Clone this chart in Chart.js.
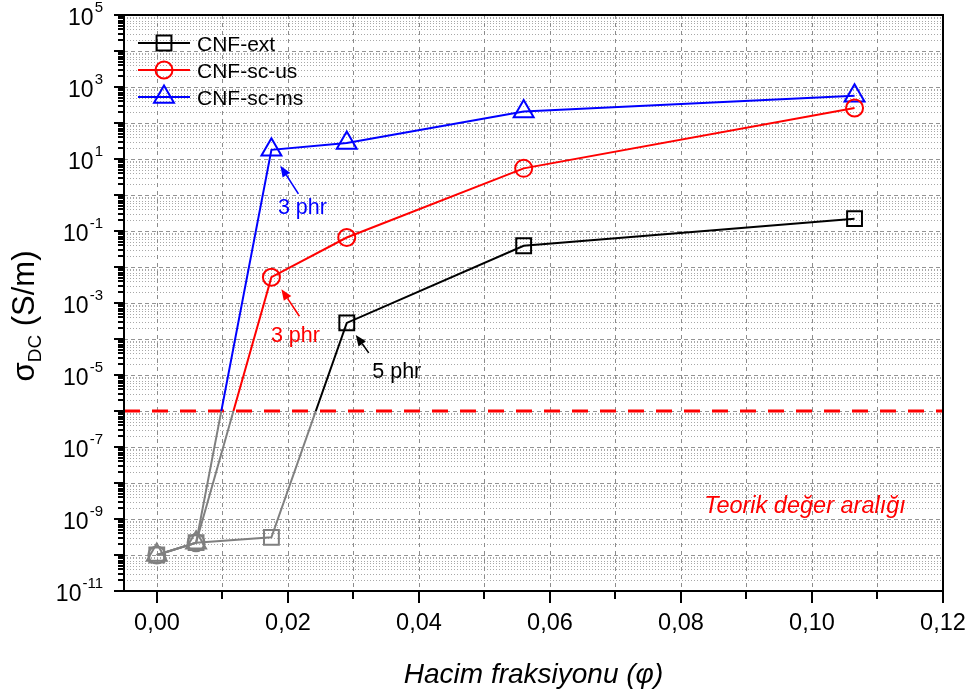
<!DOCTYPE html>
<html><head><meta charset="utf-8">
<script src="https://cdn.jsdelivr.net/npm/chart.js@4/dist/chart.umd.min.js"></script>
<style>html,body{margin:0;padding:0;background:#fff}</style>
</head><body>
<canvas id="c" width="970" height="693"></canvas>
<script>
// ---- data ----
const phi = [0, 0.006, 0.0175, 0.029, 0.056, 0.1065];
const cnfExt = [1e-10, 2.2e-10, 3.1e-10, 2.8e-4, 0.039, 0.22];
const cnfScUs = [1e-10, 2.2e-10, 0.0052, 0.066, 5.5, 260];
const cnfScMs = [1e-10, 2.2e-10, 18, 28, 210, 570];
const seriesNames = ['CNF-ext', 'CNF-sc-us', 'CNF-sc-ms'];
const xTickValues = [0, 0.01, 0.02, 0.03, 0.04, 0.05, 0.06, 0.07, 0.08, 0.09, 0.10, 0.11, 0.12];
const xTickLabels = ['0,00', '', '0,02', '', '0,04', '', '0,06', '', '0,08', '', '0,10', '', '0,12'];
const yLabelExponents = [5, 3, 1, -1, -3, -5, -7, -9, -11];
const threshold = 1e-6;
const thresholdText = 'Teorik değer aralığı';
const xTitle = 'Hacim fraksiyonu (φ)';
const annotations = [
  {series: 2, index: 2, text: '3 phr'},
  {series: 1, index: 2, text: '3 phr'},
  {series: 0, index: 3, text: '5 phr'}
];

// ---- styles ----
const colors = ['#000000', '#ff0000', '#0000ff'];
const pointStyles = ['rect', 'circle', 'triangle'];
const pointRadii = [10.5, 8.5, 11.5];
const belowColor = '#808080';
const annoLayout = [
  {head: [9, 16], tail: [27, 44], label: [31, 56]},
  {head: [10, 12], tail: [28, 39], label: [24, 57]},
  {head: [9, 12], tail: [22, 30], label: [50, 47]}
];
const allSeries = [cnfExt, cnfScUs, cnfScMs];
const FONT = 'Arial, "Liberation Sans", sans-serif';

function lineColor(i) {
  return function(ctx) {
    const chart = ctx.chart; const ca = chart.chartArea;
    if (!ca || !chart.scales.y) return colors[i];
    const yp = chart.scales.y.getPixelForValue(threshold);
    const f = Math.min(1, Math.max(0, (yp - ca.top) / (ca.bottom - ca.top)));
    const g = chart.ctx.createLinearGradient(0, ca.top, 0, ca.bottom);
    g.addColorStop(0, colors[i]); g.addColorStop(f, colors[i]);
    g.addColorStop(f, belowColor); g.addColorStop(1, belowColor);
    return g;
  };
}
function ptColor(i) {
  return function(ctx) {
    const v = ctx.parsed ? ctx.parsed.y : (ctx.raw ? ctx.raw.y : 1);
    return v < threshold ? belowColor : colors[i];
  };
}

const datasets = allSeries.map((s, i) => ({
  label: seriesNames[i],
  data: phi.map((x, k) => ({x: x, y: s[k]})),
  borderColor: lineColor(i),
  borderWidth: 2,
  backgroundColor: 'rgba(0,0,0,0)',
  pointStyle: pointStyles[i],
  pointRadius: pointRadii[i],
  pointHoverRadius: pointRadii[i],
  pointBorderWidth: 2,
  pointBorderColor: ptColor(i),
  pointBackgroundColor: 'rgba(0,0,0,0)',
  tension: 0,
  fill: false
}));

function txt(ctx, s, x, y, font, color, align, sx) {
  sx = sx || 1;
  ctx.save();
  ctx.font = font; ctx.fillStyle = color; ctx.textBaseline = 'alphabetic';
  const w = ctx.measureText(s).width * sx;
  let x0 = x;
  if (align === 'center') x0 = x - w / 2; else if (align === 'right') x0 = x - w;
  ctx.translate(x0, y); ctx.scale(sx, 1); ctx.textAlign = 'left';
  ctx.fillText(s, 0, 0);
  ctx.restore();
  return w;
}
function tw(ctx, s, font, sx) { ctx.save(); ctx.font = font; const w = ctx.measureText(s).width * (sx || 1); ctx.restore(); return w; }

function arrow(ctx, x1, y1, x2, y2, color) {
  const ang = Math.atan2(y2 - y1, x2 - x1);
  const hl = 11, hw = 4.5;
  const bx = x2 - hl * Math.cos(ang), by = y2 - hl * Math.sin(ang);
  ctx.save();
  ctx.strokeStyle = color; ctx.fillStyle = color; ctx.lineWidth = 1.6;
  ctx.beginPath(); ctx.moveTo(x1, y1); ctx.lineTo(bx, by); ctx.stroke();
  ctx.beginPath(); ctx.moveTo(x2, y2);
  ctx.lineTo(bx + hw * Math.sin(ang), by - hw * Math.cos(ang));
  ctx.lineTo(bx - hw * Math.sin(ang), by + hw * Math.cos(ang));
  ctx.closePath(); ctx.fill();
  ctx.restore();
}

const customPlugin = {
  id: 'custom',
  beforeDatasetsDraw(chart) {
    const ctx = chart.ctx, ca = chart.chartArea, xs = chart.scales.x, ys = chart.scales.y;
    ctx.save();
    ctx.lineWidth = 1;
    ctx.strokeStyle = '#a8a8a8'; ctx.setLineDash([1, 2]);
    for (let e = -11; e < 5; e++) {
      for (let m = 2; m <= 9; m++) {
        const y = Math.round(ys.getPixelForValue(m * Math.pow(10, e))) + 0.5;
        ctx.beginPath(); ctx.moveTo(ca.left, y); ctx.lineTo(ca.right, y); ctx.stroke();
      }
    }
    ctx.strokeStyle = '#949494'; ctx.setLineDash([4, 3]);
    for (let e = -10; e < 5; e++) {
      const y = Math.round(ys.getPixelForValue(Math.pow(10, e))) + 0.5;
      ctx.beginPath(); ctx.moveTo(ca.left, y); ctx.lineTo(ca.right, y); ctx.stroke();
    }
    ctx.strokeStyle = '#8c8c8c'; ctx.setLineDash([4, 4]);
    xTickValues.forEach(v => {
      const x = Math.round(xs.getPixelForValue(v)) + 0.5;
      if (x > ca.left + 2 && x < ca.right - 2) {
        ctx.beginPath(); ctx.moveTo(x, ca.top); ctx.lineTo(x, ca.bottom); ctx.stroke();
      }
    });
    const ty = ys.getPixelForValue(threshold);
    ctx.strokeStyle = '#ff0000'; ctx.lineWidth = 3; ctx.setLineDash([16, 12]);
    ctx.beginPath(); ctx.moveTo(ca.left, ty); ctx.lineTo(ca.right, ty); ctx.stroke();
    ctx.restore();
  },
  afterDatasetsDraw(chart) {
    const ctx = chart.ctx, ca = chart.chartArea, xs = chart.scales.x, ys = chart.scales.y;
    ctx.save();
    ctx.setLineDash([]);
    ctx.strokeStyle = '#000'; ctx.lineWidth = 2;
    ctx.strokeRect(ca.left, ca.top, ca.right - ca.left, ca.bottom - ca.top);
    ctx.lineWidth = 2;
    for (let e = -11; e <= 5; e++) {
      for (let m = 1; m <= 9; m++) {
        if (e === 5 && m > 1) break;
        const y = Math.round(ys.getPixelForValue(m * Math.pow(10, e)));
        const len = m === 1 ? 10 : 6;
        ctx.beginPath(); ctx.moveTo(ca.left - len, y); ctx.lineTo(ca.left, y); ctx.stroke();
      }
    }
    xTickValues.forEach((v, i) => {
      const x = Math.round(xs.getPixelForValue(v));
      const len = xTickLabels[i] ? 12 : 8;
      ctx.beginPath(); ctx.moveTo(x, ca.bottom); ctx.lineTo(x, ca.bottom + len); ctx.stroke();
      if (xTickLabels[i]) txt(ctx, xTickLabels[i], x, ca.bottom + 39, '24px ' + FONT, '#000', 'center', 0.98);
    });
    yLabelExponents.forEach(e => {
      const y = ys.getPixelForValue(Math.pow(10, e));
      const expS = (e < 0 ? '-' : '') + Math.abs(e);
      const ef = '15px ' + FONT;
      const bf = '23px ' + FONT;
      const right = 103;
      const we = tw(ctx, expS, ef);
      txt(ctx, expS, right, y - 3, ef, '#000', 'right');
      txt(ctx, '10', right - we - 1, y + 10, bf, '#000', 'right');
    });
    ctx.save();
    ctx.translate(34, 316);
    ctx.rotate(-Math.PI / 2);
    const mf = '31px ' + FONT, sf = '19px ' + FONT;
    const p1 = 'σ', p2 = 'DC', p3 = ' (S/m)';
    const total = tw(ctx, p1, mf) + tw(ctx, p2, sf) + tw(ctx, p3, mf);
    let cx = -total / 2;
    cx += txt(ctx, p1, cx, 0, mf, '#000', 'left');
    cx += txt(ctx, p2, cx, 7, sf, '#000', 'left');
    txt(ctx, p3, cx, 0, mf, '#000', 'left');
    ctx.restore();
    txt(ctx, xTitle, (ca.left + ca.right) / 2, 683, 'italic 28px ' + FONT, '#000', 'center');
    txt(ctx, thresholdText, 805, 513, 'italic 23.5px ' + FONT, '#ff0000', 'center');
    const lx = 138, lx2 = 190, ly0 = 43, ldy = 27;
    seriesNames.forEach((n, i) => {
      const y = ly0 + i * ldy;
      ctx.strokeStyle = colors[i]; ctx.lineWidth = 2;
      ctx.beginPath(); ctx.moveTo(lx, y); ctx.lineTo(lx2, y); ctx.stroke();
      ctx.fillStyle = 'rgba(0,0,0,0)';
      Chart.helpers.drawPoint(ctx, {pointStyle: pointStyles[i], radius: pointRadii[i], borderWidth: 2, rotation: 0}, (lx + lx2) / 2, y);
      txt(ctx, n, 197, y + 8, '21px ' + FONT, '#000', 'left');
    });
    annotations.forEach((a, k) => {
      const px = xs.getPixelForValue(phi[a.index]);
      const py = ys.getPixelForValue(allSeries[a.series][a.index]);
      const L = annoLayout[k];
      const c = colors[a.series];
      arrow(ctx, px + L.tail[0], py + L.tail[1], px + L.head[0], py + L.head[1], c);
      txt(ctx, a.text, px + L.label[0], py + L.label[1] + 8, '21.5px ' + FONT, c, 'center');
    });
    ctx.restore();
  }
};

new Chart(document.getElementById('c'), {
  type: 'line',
  data: {datasets: datasets},
  options: {
    responsive: false,
    animation: false,
    devicePixelRatio: 1,
    layout: {padding: {top: 15, right: 27, left: 0, bottom: 0}},
    plugins: {legend: {display: false}, tooltip: {enabled: false}},
    scales: {
      x: {
        type: 'linear', min: -0.005, max: 0.12,
        grid: {display: false}, border: {display: false},
        ticks: {display: false},
        afterFit(s) { s.height = 102; }
      },
      y: {
        type: 'logarithmic', min: 1e-11, max: 1e5,
        grid: {display: false}, border: {display: false},
        ticks: {display: false},
        afterFit(s) { s.width = 124; }
      }
    }
  },
  plugins: [customPlugin]
});
</script>
</body></html>
